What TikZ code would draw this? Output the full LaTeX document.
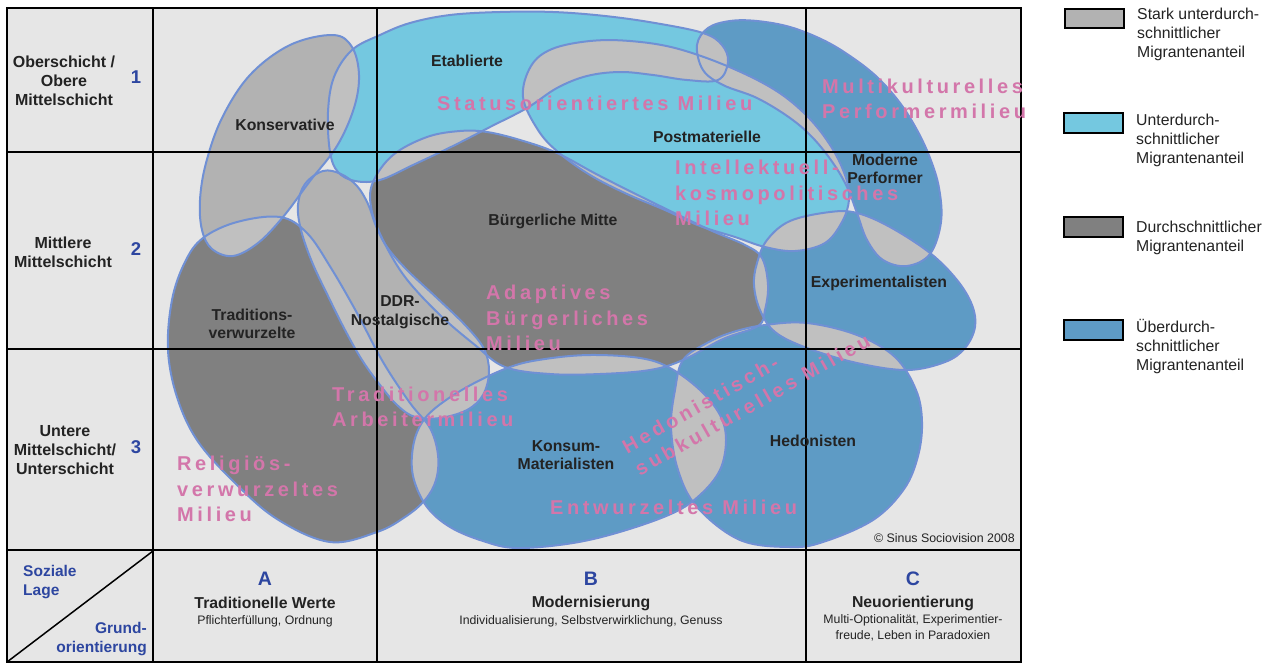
\documentclass[tikz,border=0pt]{standalone}
\usepackage{fontspec}
\setmainfont{Liberation Sans}
\newfontfamily\milfont[LetterSpace=18]{Liberation Sans}
\definecolor{bgc}{RGB}{230,230,230}
\definecolor{lgray}{RGB}{178,178,178}
\definecolor{ovl}{RGB}{192,192,192}
\definecolor{dgray}{RGB}{128,128,128}
\definecolor{cyanb}{RGB}{116,200,224}
\definecolor{blueb}{RGB}{94,155,197}
\definecolor{outl}{RGB}{112,144,212}
\definecolor{pinkt}{RGB}{211,118,170}
\definecolor{txt}{RGB}{35,35,35}
\definecolor{blut}{RGB}{45,70,160}
\tikzset{
 labtxt/.style={font=\bfseries\fontsize{15.8}{18.5}\selectfont, text=txt, align=center, inner sep=0},
 rowtxt/.style={font=\bfseries\fontsize{16}{19}\selectfont, text=txt, align=center, inner sep=0},
 miltxt/.style={font=\milfont\bfseries\fontsize{20}{25.5}\selectfont, text=pinkt, align=left, inner sep=0, anchor=west},
 legtxt/.style={font=\fontsize{15.8}{19}\selectfont, text=txt, align=left, inner sep=0, anchor=west},
 numtxt/.style={font=\bfseries\fontsize{18.5}{18.5}\selectfont, text=blut, inner sep=0},
 subtxt/.style={font=\fontsize{12.3}{16}\selectfont, text=txt, align=center, inner sep=0},
 legbox/.style={draw=black, line width=1.8},
 blob/.style={draw=outl, line width=2},
}
\def\pK{plot[smooth cycle,tension=0.6] coordinates {(333,35) (352,47) (359,75) (354,108) (337,146) (310,181) (283,217) (258,243) (233,256) (212,249) (202,230) (200,200) (206,163) (222,118) (250,75) (290,45)}}
\def\pE{plot[smooth cycle,tension=0.6] coordinates {(380,35) (410,23) (450,15) (500,12) (553,12) (605,16) (655,23) (703,33) (722,45) (728,62) (718,80) (687,80) (653,75) (620,72) (587,76) (557,88) (527,108) (490,127) (453,146) (413,165) (380,180) (355,181) (338,172) (330,152) (328,112) (334,77) (352,50)}}
\def\pP{plot[smooth cycle,tension=0.6] coordinates {(523,97) (531,66) (552,49) (590,41) (630,41) (675,48) (727,66) (775,90) (808,117) (832,148) (846,178) (849,200) (842,222) (825,243) (795,251) (765,247) (735,237) (700,226) (665,210) (627,194) (590,175) (558,152) (538,130)}}
\def\pMP{plot[smooth cycle,tension=0.6] coordinates {(697,45) (708,28) (730,21) (757,21) (790,27) (823,40) (850,56) (877,77) (900,103) (917,130) (930,158) (939,188) (941,222) (930,254) (907,266) (883,260) (867,240) (857,213) (847,187) (833,163) (813,138) (790,118) (757,98) (723,85) (703,70)}}
\def\pBM{plot[smooth cycle,tension=0.6] coordinates {(373,182) (393,155) (427,137) (460,131) (487,132) (520,140) (557,153) (600,176) (660,206) (710,230) (745,245) (762,258) (768,285) (765,310) (758,326) (723,339) (683,360) (650,370) (600,374) (550,374) (505,367) (475,345) (440,315) (405,277) (382,238) (371,207)}}
\def\pD{plot[smooth cycle,tension=0.6] coordinates {(323,171) (341,174) (357,186) (368,204) (376,226) (387,247) (407,270) (437,298) (466,326) (484,349) (489,372) (483,395) (467,410) (440,418) (415,417) (397,405) (380,385) (362,360) (345,330) (328,296) (312,262) (301,230) (298,205) (305,184)}}
\def\pTV{plot[smooth cycle,tension=0.6] coordinates {(280,217) (307,233) (331,268) (357,313) (383,362) (410,403) (430,428) (438,455) (436,480) (425,500) (405,517) (377,532) (330,542) (277,519) (233,481) (197,440) (177,397) (168,350) (172,300) (185,262) (203,238) (237,222)}}
\def\pKM{plot[smooth cycle,tension=0.6] coordinates {(433,410) (467,387) (510,367) (545,359) (590,355) (640,358) (670,368) (700,390) (720,415) (726,440) (720,470) (700,495) (673,513) (623,531) (573,543) (517,548) (483,541) (450,527) (427,507) (414,480) (412,455) (418,430)}}
\def\pH{plot[smooth cycle,tension=0.6] coordinates {(683,360) (707,343) (733,332) (765,325) (807,323) (857,335) (895,357) (916,390) (922,422) (918,456) (904,489) (873,520) (823,542) (790,547) (740,540) (697,507) (678,470) (671,427) (675,390)}}
\def\pX{plot[smooth cycle,tension=0.6] coordinates {(757,263) (767,240) (790,221) (830,212) (857,213) (890,227) (930,253) (957,280) (972,305) (975,327) (965,348) (945,362) (907,370) (857,363) (807,348) (775,332) (760,310) (754,285)}}
\newcommand\ovlp[2]{\begin{scope}\clip #1;\fill[ovl] #2;\end{scope}}
\begin{document}
\begin{tikzpicture}[x=1pt,y=-1pt]
\useasboundingbox (0,0) rectangle (1265,664);
\fill[white] (0,0) rectangle (1265,664);
\fill[bgc] (7,8) rectangle (1021,662);
% blobs
\fill[lgray] \pK;
\fill[cyanb] \pE;
\fill[cyanb] \pP;
\fill[blueb] \pMP;
\fill[dgray] \pBM;
\fill[lgray] \pD;
\fill[dgray] \pTV;
\fill[blueb] \pKM;
\fill[blueb] \pH;
\fill[blueb] \pX;
% overlaps
\ovlp{\pK}{\pE}
\ovlp{\pK}{\pTV}
\ovlp{\pK}{\pD}
\ovlp{\pE}{\pP}
\ovlp{\pE}{\pMP}
\ovlp{\pE}{\pBM}
\ovlp{\pE}{\pD}
\ovlp{\pP}{\pMP}
\ovlp{\pP}{\pBM}
\ovlp{\pP}{\pX}
\ovlp{\pMP}{\pX}
\ovlp{\pBM}{\pD}
\ovlp{\pBM}{\pKM}
\ovlp{\pBM}{\pH}
\ovlp{\pBM}{\pX}
\ovlp{\pD}{\pTV}
\ovlp{\pD}{\pKM}
\ovlp{\pTV}{\pKM}
\ovlp{\pKM}{\pH}
\ovlp{\pH}{\pX}
% outlines
\draw[blob] \pK; \draw[blob] \pE; \draw[blob] \pP; \draw[blob] \pMP; \draw[blob] \pBM;
\draw[blob] \pD; \draw[blob] \pTV; \draw[blob] \pKM; \draw[blob] \pH; \draw[blob] \pX;
% grid
\draw[line width=1.3] (153,152) -- (1021,152);
\draw[line width=1.3] (153,349) -- (1021,349);
\draw[line width=1.3] (377,8) -- (377,550);
\draw[line width=1.3] (806,8) -- (806,550);
\draw[line width=2] (7,152) -- (153,152);
\draw[line width=2] (7,349) -- (153,349);
\draw[line width=2] (7,550) -- (1021,550);
\draw[line width=2] (377,550) -- (377,662);
\draw[line width=2] (806,550) -- (806,662);
\draw[line width=2] (153,8) -- (153,662);
\draw[line width=2] (7,8) rectangle (1021,662);
\draw[line width=1.5] (7,662) -- (153,551);
% milieu texts
\node[miltxt] (mStat) at (437,103) {Statusorientiertes Milieu};
\node[miltxt] (mMulti) at (822,99) {Multikulturelles\\Performermilieu};
\node[miltxt] (mIntel) at (675,193) {Intellektuell-\\kosmopolitisches\\Milieu};
\node[miltxt] (mAdapt) at (486,318) {Adaptives\\Bürgerliches\\Milieu};
\node[miltxt] (mTrad) at (332,407) {Traditionelles\\Arbeitermilieu};
\node[miltxt] (mRel) at (177,489) {Religiös-\\verwurzeltes\\Milieu};
\node[miltxt] (mEnt) at (550,507) {Entwurzeltes Milieu};
\node[miltxt, rotate=29.5] (mHed) at (630,459) {Hedonistisch-\\subkulturelles Milieu};
% segment labels
\node[labtxt] (lE) at (467,61) {Etablierte};
\node[labtxt] (lK) at (285,125) {Konservative};
\node[labtxt] (lP) at (707,137) {Postmaterielle};
\node[labtxt] (lMP) at (885,169) {Moderne\\Performer};
\node[labtxt] (lBM) at (553,221) {Bürgerliche Mitte};
\node[labtxt] (lX) at (879,283) {Experimentalisten};
\node[labtxt] (lTV) at (252,324) {Traditions-\\verwurzelte};
\node[labtxt] (lD) at (400,312) {DDR-\\Nostalgische};
\node[labtxt] (lKM) at (566,455) {Konsum-\\Materialisten};
\node[labtxt] (lH) at (813,441) {Hedonisten};
% left column
\node[rowtxt] (r1) at (64,81) {Oberschicht /\\Obere\\Mittelschicht};
\node[rowtxt] (r2) at (63,252) {Mittlere\\Mittelschicht};
\node[rowtxt] (r3) at (65,450) {Untere\\Mittelschicht/\\Unterschicht};
\node[numtxt] (n1) at (136,77) {1};
\node[numtxt] (n2) at (136,249) {2};
\node[numtxt] (n3) at (136,447) {3};
% bottom row
\node[labtxt, text=blut, align=left, anchor=west, font=\bfseries\fontsize{15.5}{19}\selectfont] (soz) at (23,582) {Soziale\\Lage};
\node[labtxt, text=blut, align=right, anchor=east, font=\bfseries\fontsize{15.5}{19}\selectfont] (grund) at (147,639) {Grund-\\orientierung};
\node[numtxt, font=\bfseries\fontsize{19.5}{19.5}\selectfont] (cA) at (265,579) {A};
\node[numtxt, font=\bfseries\fontsize{19.5}{19.5}\selectfont] (cB) at (591,579) {B};
\node[numtxt, font=\bfseries\fontsize{19.5}{19.5}\selectfont] (cC) at (913,579) {C};
\node[labtxt] (tA) at (265,603) {Traditionelle Werte};
\node[labtxt] (tB) at (591,603) {Modernisierung};
\node[labtxt] (tC) at (913,603) {Neuorientierung};
\node[subtxt] (sA) at (265,621) {Pflichterfüllung, Ordnung};
\node[subtxt] (sB) at (591,621) {Individualisierung, Selbstverwirklichung, Genuss};
\node[subtxt, anchor=north] (sC) at (913,614) {Multi-Optionalität, Experimentier-\\freude, Leben in Paradoxien};
\node[subtxt, anchor=east, font=\fontsize{12.4}{14}\selectfont] (copy) at (1015,538) {© Sinus Sociovision 2008};
% legend
\draw[legbox, fill=lgray] (1065,9) rectangle (1124,28);
\draw[legbox, fill=cyanb] (1064,113) rectangle (1123,133);
\draw[legbox, fill=dgray] (1064,217) rectangle (1123,237);
\draw[legbox, fill=blueb] (1064,320) rectangle (1123,340);
\node[legtxt] (g1) at (1137,34) {Stark unterdurch-\\schnittlicher\\Migrantenanteil};
\node[legtxt] (g2) at (1136,140) {Unterdurch-\\schnittlicher\\Migrantenanteil};
\node[legtxt] (g3) at (1136,238) {Durchschnittlicher\\Migrantenanteil};
\node[legtxt] (g4) at (1136,347) {Überdurch-\\schnittlicher\\Migrantenanteil};
\end{tikzpicture}
\end{document}
